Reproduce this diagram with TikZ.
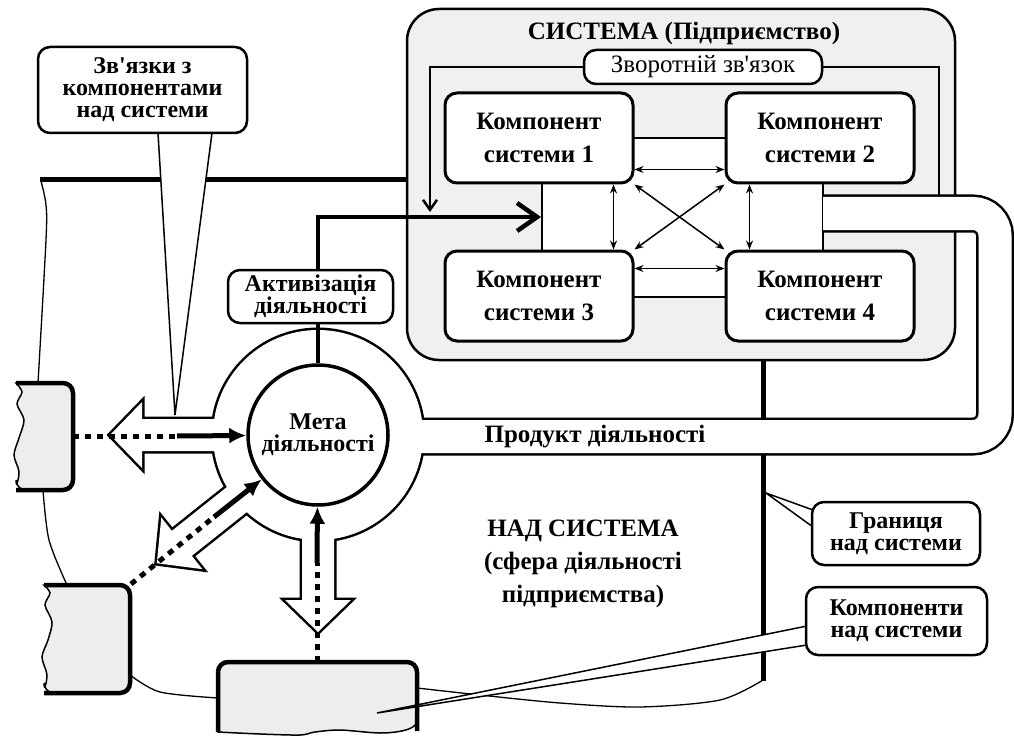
\documentclass[tikz,border=0pt]{standalone}
\usepackage{fontspec}
\setmainfont{Liberation Serif}
\newfontfamily\diagfont{Liberation Serif}
\usetikzlibrary{arrows.meta,calc}

\tikzset{
  box/.style={draw, fill=white, line width=2.5pt, rounded corners=12pt, align=center, inner sep=0pt},
  comp/.style={box, line width=3pt, minimum width=188pt, minimum height=90pt,
    font={\diagfont\bfseries\fontsize{25}{33}\selectfont}},
  callout/.style={box, font={\diagfont\bfseries\fontsize{24}{22}\selectfont}},
  pointer/.style={draw, fill=white, line width=1.5pt, line join=miter},
  thinline/.style={line width=1.3pt},
  link/.style={line width=1.5pt, {Stealth[length=9pt,width=7pt]}-{Stealth[length=9pt,width=7pt]}},
  dotline/.style={line width=5pt, dash pattern=on 6pt off 6pt},
  goal/.style={line width=5pt, -{Latex[length=17pt,width=16pt]}},
  supra/.style={fill=gray!14, line width=1.5pt},
  bigtext/.style={font={\diagfont\bfseries\fontsize{25}{33}\selectfont}, align=center, inner sep=0pt}
}

\begin{document}
\begin{tikzpicture}[x=1pt,y=-1pt]
        	\pgfmathsetmacro{\R}{105}
        	\useasboundingbox (0,0) rectangle (1014,738);

        	% boundary of the supra system
        	\draw[line width=5pt] (40,180) -- (407,180);
        	\draw[thinline] plot[smooth] coordinates {(41,181) (46,205) (46,240) (38,383)};
        	\draw[thinline] plot[smooth] coordinates {(43,490) (49,540) (67,585)};
        	\draw[thinline] plot[smooth] coordinates {(130,675) (160,692) (218,698)};
        	\draw[thinline] plot[smooth] coordinates {(417,688) (480,695) (560,703) (640,707) (720,700) (763,680)};
        	\draw[line width=5pt] (763,360) -- (763,681);

        	% the system
        	\node[draw, fill=gray!12, line width=2.5pt, rounded corners=32pt,
        	  minimum width=548pt, minimum height=351pt] (sys) at (681,184.5) {};
        	\node[bigtext] (systitle) at (684,33) {СИСТЕМА (Підприємство)};
        	\node[box, font={\diagfont\fontsize{25}{30}\selectfont}, minimum width=238pt, minimum height=34pt]
        	  (fb) at (703,67) {Зворотній зв'язок};
        	\draw[line width=2.5pt, -{Straight Barb[length=10pt,width=14pt]}] (fb.west) -- (430,67) -- (430,212);
        	\draw[line width=2.5pt] (fb.east) -- (939,67) -- (939,198);

        	\draw[line width=2.5pt, fill=white] (542,138) rectangle (823,297);
        	\foreach \n/\x/\y in {1/539/138, 2/820/138, 3/539/296, 4/820/296} {
        		\node[comp] (c\n) at (\x,\y) {Компонент\\системи \n};
        	};
        	\draw[link] ($(c1.south east)+(0,-15)$) -- ($(c2.south west)+(0,-15)$);
        	\draw[link] ($(c3.north east)+(0,19)$) -- ($(c4.north west)+(0,19)$);
        	\draw[link] ($(c1.south east)+(-21,0)$) -- ($(c3.north east)+(-21,0)$);
        	\draw[link] ($(c2.south west)+(25,0)$) -- ($(c4.north west)+(25,0)$);
        	\draw[link] (c1.south east) -- (c4.north west);
        	\draw[link] (c2.south west) -- (c3.north east);

        	% hub: ring, product pipe and hollow arrows
        	\fill (318,435) circle[radius=\R+2.5];
        	\draw[line width=38pt, rounded corners=22pt] (823,213.5) -- (995,213.5) -- (995,436.5) -- (318,436.5);
        	\foreach \a/\b/\t in {180/176/208, 218.5/174/206, 270/165/197} {
        		\filldraw[line width=5pt, line join=miter, shift={(318,435)}, rotate=\a]
        		  (0,-16) -- (\b,-16) -- (\b,-33) -- (\t,0) -- (\b,33) -- (\b,16) -- (0,16) -- cycle;
        	};
        	\fill[white] (318,435) circle[radius=\R];
        	\draw[white, line width=33pt, rounded corners=22pt] (823,213.5) -- (995,213.5) -- (995,436.5) -- (318,436.5);
        	\foreach \a/\b/\t in {180/176/208, 218.5/174/206, 270/165/197} {
        		\fill[white, shift={(318,435)}, rotate=\a]
        		  (0,-16) -- (\b,-16) -- (\b,-33) -- (\t,0) -- (\b,33) -- (\b,16) -- (0,16) -- cycle;
        	};
        	\node[bigtext] (prod) at (595,437) {Продукт діяльності};

        	\node[circle, draw, fill=white, line width=3.5pt, minimum size=140pt,
        	  font={\diagfont\bfseries\fontsize{24}{22}\selectfont}, align=center, inner sep=0pt]
        	  (meta) at (318,435) {Мета\\діяльності};
        	\node[callout, minimum width=165pt, minimum height=53pt] (act) at (310.5,296.5) {Активізація\\діяльності};
        	\draw[line width=4.5pt] (meta.north) -- (meta.north |- act.south);
        	\draw[line width=4.5pt, -{Straight Barb[length=20pt,width=28pt]}]
        	  (meta.north |- act.north) -- (318,217) -- (541,217);

        	% components of the supra system
        	\filldraw[supra] plot[smooth] coordinates {(16,490) (19,472) (14,455) (19,438) (24,420) (17,404) (22,392) (16,383)}
        	  [rounded corners=10pt] -- (73,383) -- (73,490) -- cycle;
        	\draw[line width=4.5pt, rounded corners=10pt] (16,383) -- (73,383) -- (73,490) -- (16,490);
        	\filldraw[supra] plot[smooth] coordinates {(44,693) (47,675) (42,657) (48,640) (52,622) (45,605) (50,593) (44,585)}
        	  [rounded corners=10pt] -- (130,585) -- (130,693) -- cycle;
        	\draw[line width=4.5pt, rounded corners=10pt] (44,585) -- (130,585) -- (130,693) -- (44,693);
        	\filldraw[supra] plot[smooth] coordinates {(417,731) (380,733) (340,730) (315,732) (300,735) (260,734) (218,732)}
        	  [rounded corners=10pt] -- (218,662) -- (417,662) -- cycle;
        	\draw[line width=4.5pt, rounded corners=10pt] (218,732) -- (218,662) -- (417,662) -- (417,731);

        	\coordinate (sc1) at (73,436);
        	\coordinate (sc2) at (131,584);
        	\coordinate (sc3) at (317,662);
        	\coordinate (l1) at (177,436);
        	\coordinate (l2) at (214,517);
        	\coordinate (l3) at (317,563);
        	\foreach \n in {1,2,3} {
        		\draw[dotline] (sc\n) -- (l\n);
        		\draw[goal] (l\n) -- (meta);
        	};

        	% callouts
        	\draw[pointer] (158,133) -- (175,415) -- (212,133);
        	\node[callout, minimum width=209pt, minimum height=86pt] (links) at (142.5,90)
        	  {Зв'язки з\\компонентами\\над системи};
        	\draw[pointer] (813,510) -- (766,493) -- (813,527);
        	\node[callout, minimum width=168pt, minimum height=63pt] (border) at (896,533.5)
        	  {Границя\\над системи};
        	\draw[pointer] (807,626) -- (377,713) -- (807,645);
        	\node[callout, minimum width=181pt, minimum height=68pt] (supcomp) at (896.5,621)
        	  {Компоненти\\над системи};

        	\node[bigtext] (nad) at (583,564) {НАД СИСТЕМА\\(сфера діяльності\\підприємства)};
        \end{tikzpicture}
\end{document}
